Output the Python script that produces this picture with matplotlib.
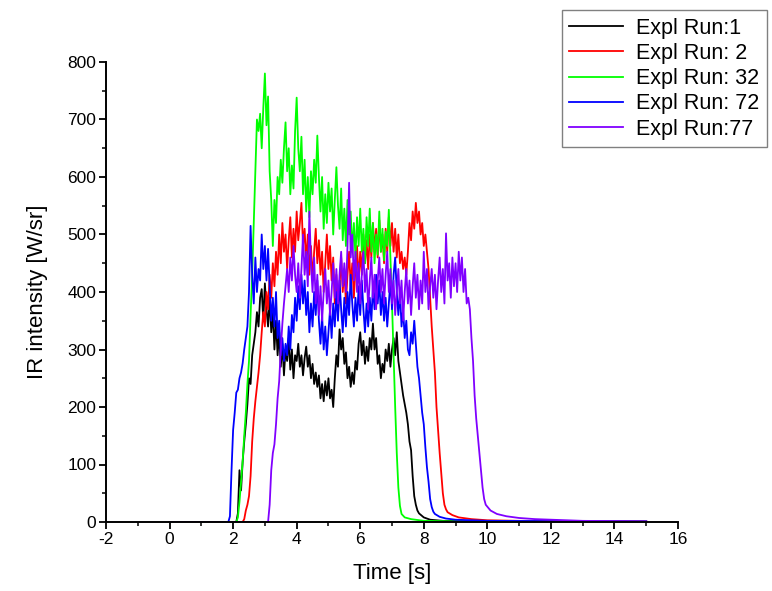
import numpy as np
import matplotlib
matplotlib.use("Agg")
import matplotlib.pyplot as plt
from matplotlib.ticker import MultipleLocator

plt.rcParams['font.family'] = ['Liberation Sans', 'DejaVu Sans']
plt.rcParams['axes.unicode_minus'] = False

dt = 0.05  # sample step of the hand-read plateau values

labels = ['Expl Run:1', 'Expl Run: 2', 'Expl Run: 32', 'Expl Run: 72', 'Expl Run:77']
colors = ['#000000', '#ff0000', '#00ff00', '#0000ff', '#8000ff']

# Run 1 (black)
run1_t0 = 2.10
run1_v = [0, 15, 90, 55, 105, 140, 170, 205, 250, 240, 290, 310, 330, 365, 340, 390,
          405, 350, 415, 370, 340, 390, 330, 365, 300, 350, 290, 330, 270, 310, 255, 300,
          280, 320, 265, 300, 250, 290,
          280, 310, 270, 290, 255, 285, 305, 270, 290, 250, 275, 240, 260, 235, 255, 215,
          240, 210, 245, 220, 250, 215, 230, 200, 250, 290, 270, 335, 300, 320, 275, 295,
          250, 270, 235, 260, 240, 280, 265, 310, 330, 290, 315, 275, 305, 280, 320, 300,
          345, 300, 320, 275, 290, 250, 275, 260, 300, 280, 310, 270, 300, 320, 290, 330,
          280, 260, 240, 220, 205, 190, 170, 140, 125, 80, 45, 30, 20, 15]
run1_tail_t = [8.0, 8.2, 8.6, 10.0, 15.0]
run1_tail_v = [8, 4, 2, 1, 0.5]

# Run 2 (red)
run2_t0 = 2.30
run2_v = [0, 5, 20, 30, 45, 80, 140, 180, 210, 235, 260, 290, 330, 365, 340, 400,
          370, 430, 390, 450, 410, 470, 430, 500, 450, 520, 470, 500, 440, 490, 530, 460,
          510, 470, 540, 490, 520, 555, 480, 510, 450, 500, 430, 480, 420, 470, 510, 450,
          490, 430, 470, 400, 450, 500, 440, 480, 420, 460, 380, 430, 360, 410, 460, 400,
          440, 380, 430, 470, 410, 450, 390, 440, 480, 420, 470, 430, 500, 450, 490, 440,
          500, 460, 520, 470, 510, 460, 525, 470, 500, 450, 510, 470, 530, 480, 520, 470,
          510, 460, 500, 450, 470, 440, 460, 430, 470, 520, 490, 540, 510, 555, 520, 540,
          500, 520, 480, 500, 470, 440, 390, 340, 300, 260, 200, 160, 120, 85, 50, 30,
          22, 17]
run2_tail_t = [8.9, 9.1, 9.5, 10.0, 11.0, 15.0]
run2_tail_v = [12, 8, 5, 3, 2, 1]

# Run 32 (green)
run32_t0 = 2.10
run32_v = [0, 8, 35, 70, 105, 150, 190, 240, 280, 360, 430, 520, 610, 700, 680, 710,
           650, 720, 780, 690, 740, 610, 560, 480, 560, 520, 600, 570, 630, 590, 650, 695,
           610, 650, 570, 620, 580, 680, 738, 650, 610, 670, 570, 630, 540, 600, 530, 610,
           570, 630, 590, 672, 600, 540, 600, 510, 570, 520, 590, 540, 580, 500, 560, 617,
           550, 510, 580, 490, 545, 480, 560, 500, 540, 470, 520, 460, 530, 480, 545, 470,
           510, 450, 530, 480, 545, 470, 520, 450, 500, 465, 540, 470, 510, 455, 505, 480,
           543, 460, 380, 290, 200, 120, 60, 28, 14]
run32_tail_t = [7.4, 7.6, 8.0, 9.0, 15.0]
run32_tail_v = [8, 5, 2, 1, 0.5]

# Run 72 (blue)
run72_t0 = 1.85
run72_v = [0, 10, 90, 160, 190, 225, 230, 250, 260, 276, 300, 320, 340, 400, 515, 430,
           380, 460, 400, 440, 420, 500, 440, 480, 420, 475, 410, 350, 390, 340, 400, 320,
           350, 290, 320, 280, 310, 290, 340, 300, 360, 330, 390, 350, 410, 370, 430, 380,
           420, 360, 400, 330, 380, 340, 400, 360, 420, 350, 310, 360, 300, 340, 290, 330,
           370, 320, 380, 340, 400, 350, 420, 370, 330, 390, 340, 400, 360, 430, 380, 340,
           390, 350, 410, 360, 420, 370, 330, 380, 340, 390, 350, 410, 370, 430, 380, 420,
           360, 400, 350, 390, 340, 380, 420, 370, 430, 460, 400, 360, 400, 340, 370, 320,
           350, 300, 290, 330, 310, 350, 310, 270, 250, 220, 190, 170, 130, 95, 70, 40,
           26, 18, 14]
run72_tail_t = [8.5, 8.7, 9.0, 10.0, 15.0]
run72_tail_v = [9, 6, 4, 2, 1]

# Run 77 (purple)
run77_t0 = 3.10
run77_v = [0, 30, 90, 120, 135, 170, 215, 245, 300, 345, 380, 410, 440, 400, 460, 420,
           480, 430, 400, 450, 390, 440, 500, 430, 470, 410, 540, 450, 400, 460, 380, 430,
           360, 410, 350, 400, 440, 380, 420, 360, 400, 450, 390, 440, 380, 430, 470, 410,
           450, 400, 480, 590, 460, 500, 420, 470, 400, 450, 380, 430, 470, 400, 440, 370,
           420, 460, 390, 430, 370, 420, 460, 400, 440, 380, 430, 470, 400, 440, 380, 420,
           360, 400, 440, 380, 420, 350, 400, 440, 380, 420, 360, 410, 450, 390, 430, 370,
           420, 380, 470, 400, 440, 370, 410, 440, 390, 430, 370, 420, 460, 400, 440, 380,
           502, 420, 450, 390, 460, 410, 450, 400, 470, 420, 460, 400, 440, 380, 390, 370,
           320, 280, 220, 180, 150, 120, 90, 60, 40, 30]
run77_tail_t = [10.1, 10.3, 10.6, 11.0, 11.5, 12.0, 13.0, 14.0, 15.0]
run77_tail_v = [20, 14, 10, 7, 5, 4, 2, 1.5, 1]

runs = [(run1_t0, run1_v, run1_tail_t, run1_tail_v),
        (run2_t0, run2_v, run2_tail_t, run2_tail_v),
        (run32_t0, run32_v, run32_tail_t, run32_tail_v),
        (run72_t0, run72_v, run72_tail_t, run72_tail_v),
        (run77_t0, run77_v, run77_tail_t, run77_tail_v)]

fig = plt.figure(figsize=(7.72, 5.91), dpi=100)
ax = fig.add_axes([106/772, 69/591, 572/772, 460/591])

for (t0, v, tail_t, tail_v), lab, col in zip(runs, labels, colors):
    t = np.concatenate([[0.0], t0 + dt*np.arange(len(v)), tail_t])
    y = np.concatenate([[0.0], v, tail_v])
    ax.plot(t, y, color=col, lw=1.3, label=lab)

ax.set_xlim(-2, 16)
ax.set_ylim(0, 800)
ax.xaxis.set_major_locator(MultipleLocator(2))
ax.xaxis.set_minor_locator(MultipleLocator(1))
ax.yaxis.set_major_locator(MultipleLocator(100))
ax.yaxis.set_minor_locator(MultipleLocator(50))
for s in ['top', 'right']:
    ax.spines[s].set_visible(False)
for s in ['left', 'bottom']:
    ax.spines[s].set_linewidth(1.4)
ax.tick_params(which='major', direction='out', length=5, width=1.3, labelsize=12.5, pad=2)
ax.tick_params(which='minor', direction='out', length=3, width=1.1)

ax.set_xlabel('Time [s]', fontsize=16, labelpad=12)
ax.set_ylabel('IR intensity [W/sr]', fontsize=16, labelpad=14)

leg = fig.legend(loc='upper right', bbox_to_anchor=(767/772, 1 - 10/591),
                 fontsize=15.5, fancybox=False, framealpha=1, edgecolor='#808080',
                 handlelength=2.5, labelspacing=0.2, borderpad=0.35,
                 handletextpad=0.6, borderaxespad=0)
leg.get_frame().set_linewidth(1.0)

fig.savefig('out.png', dpi=100)
